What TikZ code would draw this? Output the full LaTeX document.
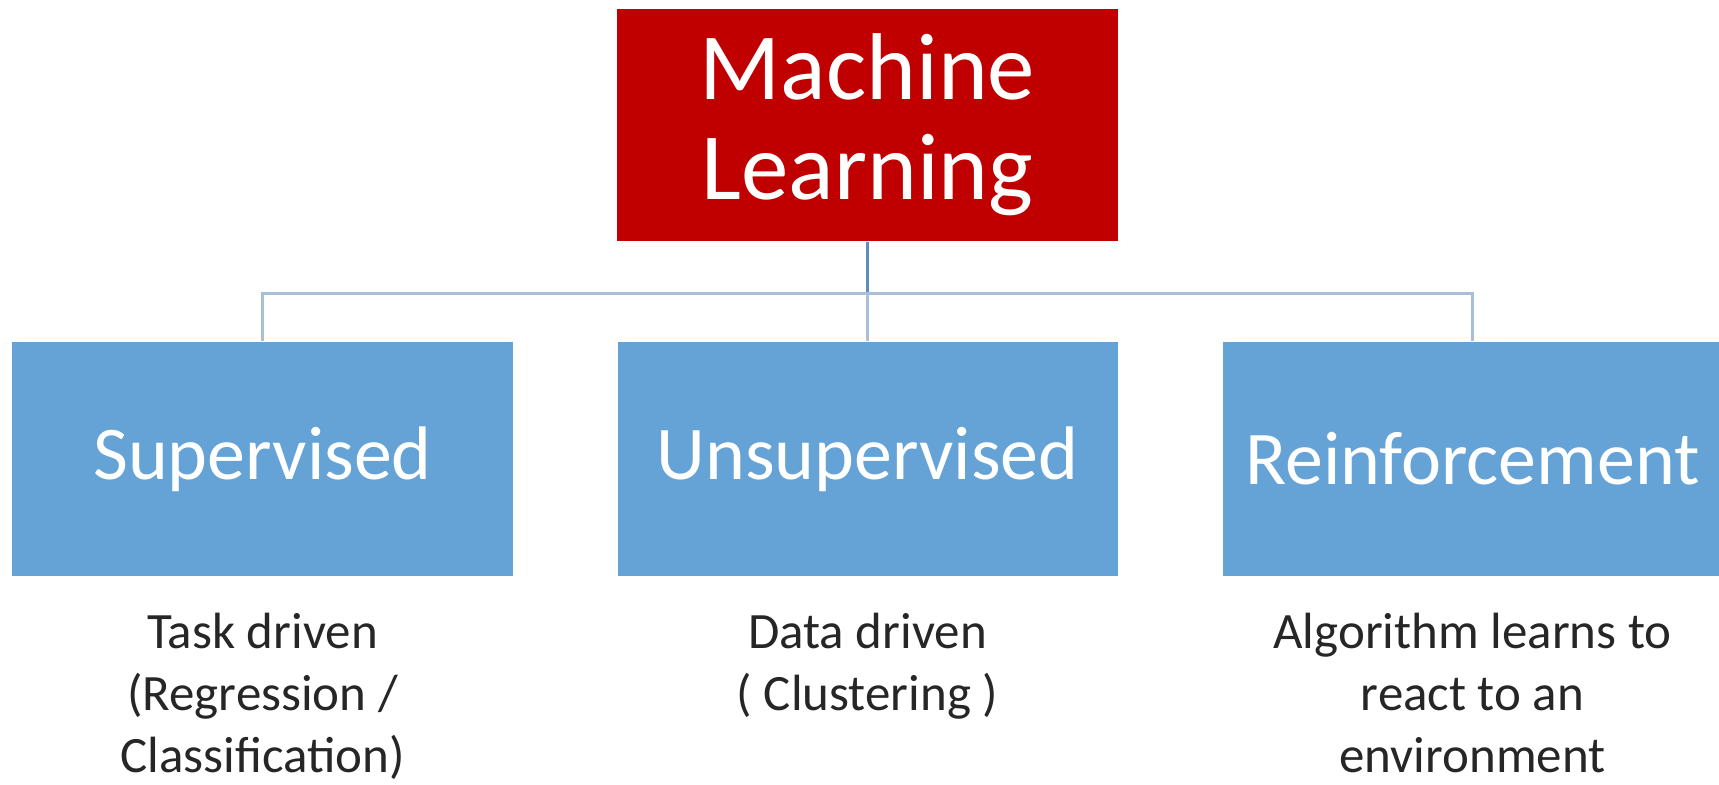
\documentclass[tikz,border=0pt]{standalone}
\usepackage{fontspec}
\setmainfont{Carlito}
\usepackage{xcolor}
\usetikzlibrary{positioning}
\usetikzlibrary{arrows,calc}

\definecolor{mlred}{HTML}{C00000}
\definecolor{boxblue}{HTML}{65A3D7}
\definecolor{linkblue}{HTML}{A7BFDA}
\definecolor{stemblue}{HTML}{5F8CBD}

\begin{document}
\begin{tikzpicture} [
       auto,
       mlbox/.style={rectangle, fill=mlred, text=white, minimum width=5.01cm,
               minimum height=2.32cm, align=center, inner sep=0pt,
               font=\fontsize{27}{28.5}\selectfont},
       branch/.style={rectangle, fill=boxblue, text=white, minimum width=5cm,
               minimum height=2.34cm, inner sep=0pt,
               font=\fontsize{21.6}{26}\selectfont},
       texte/.style={align=center, inner sep=0pt, text=black!85,
               font=\fontsize{14.5}{17.6}\selectfont},
        line/.style     = { draw, linkblue, line width=0.8pt },
       node distance=6.05cm,
       ]
       \useasboundingbox (0,0) rectangle (17.19,-7.84);
       \node (ml) [mlbox] at (8.675,-1.25) {Machine\\Learning};
       \node (uns) [branch, below of = ml, node distance=3.34cm] {Unsupervised};
       \node (sup) [branch, left of = uns] {Supervised};
       \node (rein) [branch, right of = uns] {Reinforcement};
       \node (tsup) [texte, below=0.36cm of sup] {Task driven\\(Regression /\\Classification)};
       \node (tuns) [texte, below=0.36cm of uns] {Data driven\\( Clustering )};
       \node (trein) [texte, below=0.36cm of rein] {Algorithm learns to\\react to an\\environment};
        \draw [stemblue, line width=0.8pt] (ml.south) -- ++(0,-0.52) coordinate (bus);
        \begin{scope}[every path/.style=line]
        \path (sup.north) |- (bus) -| (rein.north);
        \path (uns.north) -- (bus);
\end{scope}
\end{tikzpicture}
\end{document}
